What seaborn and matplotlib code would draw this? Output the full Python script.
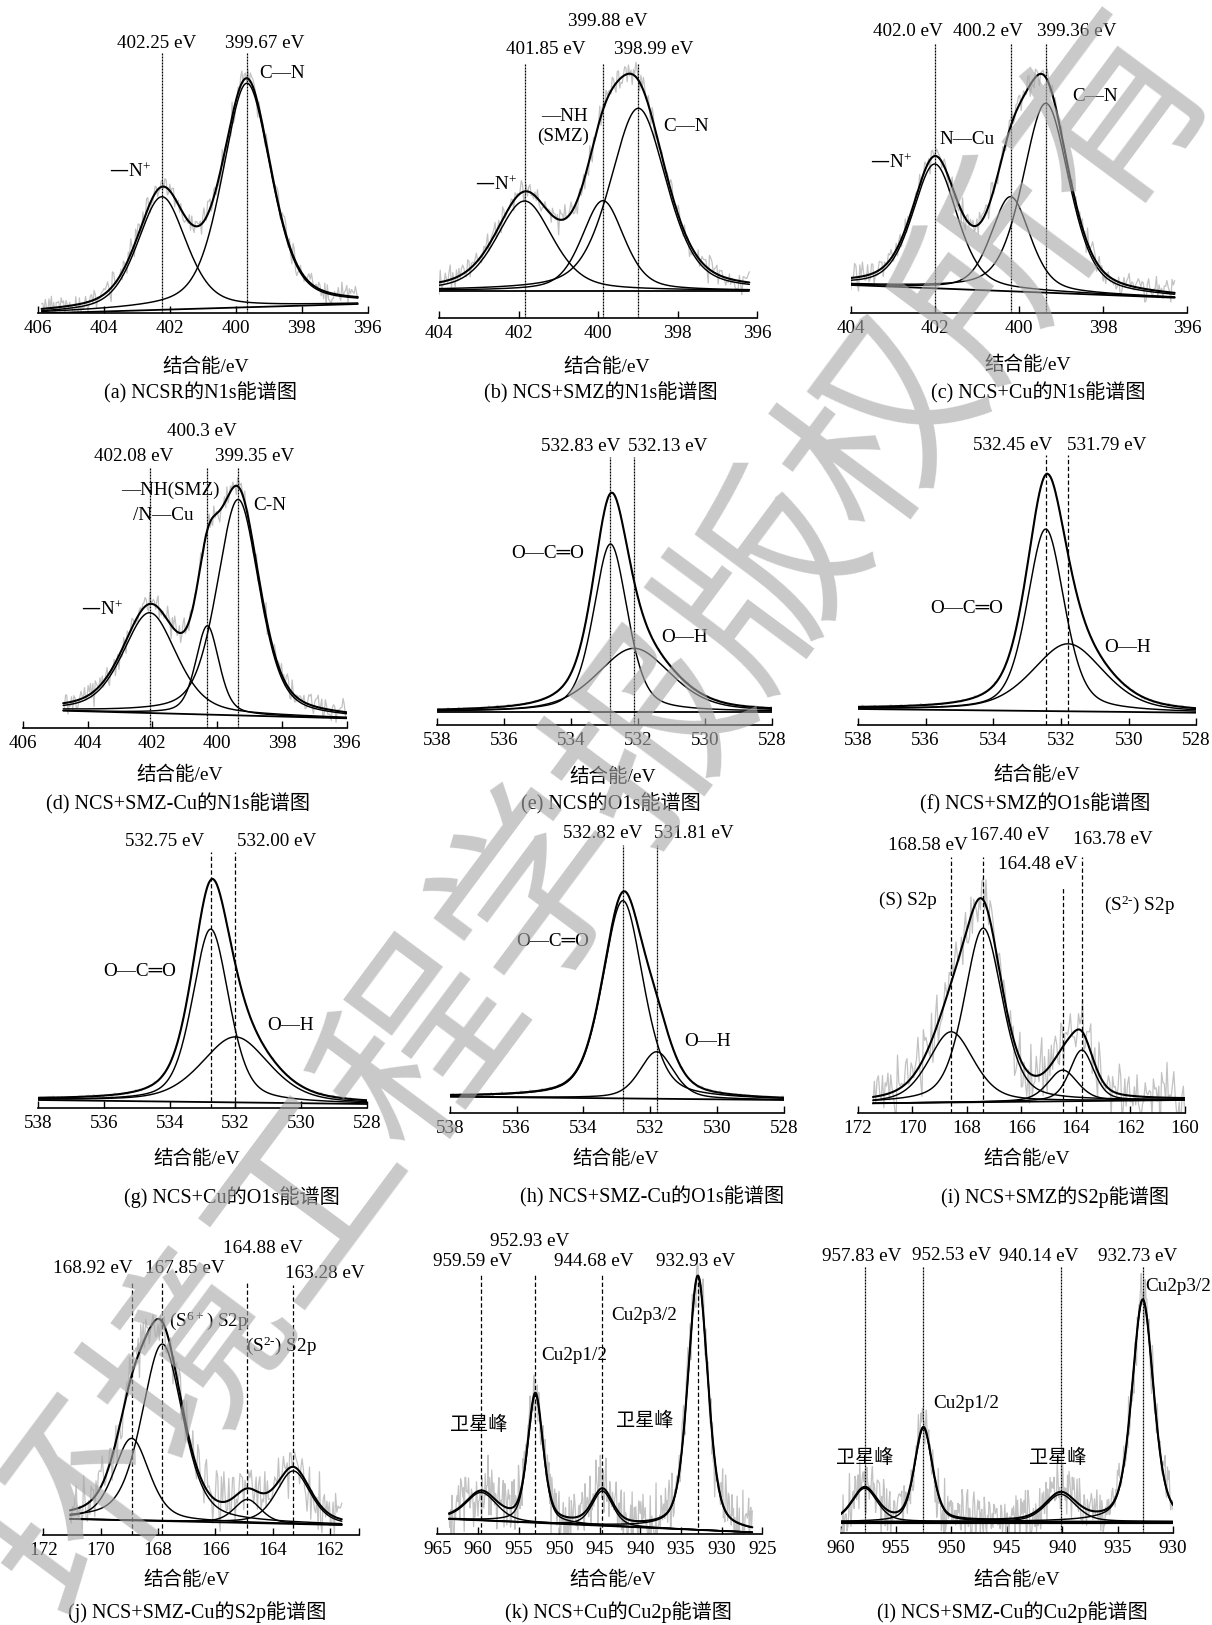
import numpy as np
import matplotlib
matplotlib.use("Agg")
import matplotlib.pyplot as plt
import seaborn as sns

W, H = 1212, 1625

# ---------------------------------------------------------------- data
# hand-typed scatter of the raw spectra (relative units, -1..1)
NOISE = [0.3, -0.5, 0.8, -0.2, 0.1, -0.9, 0.6, 0.4, -0.3, 0.7, -0.6, 0.2, 0.9, -0.4, -0.1, 0.5, -0.8, 0.3, 0.6, -0.7,
         0.0, 0.8, -0.3, -0.6, 0.4, 0.2, -0.9, 0.7, -0.1, 0.5, -0.4, 0.9, -0.7, 0.1, 0.3, -0.2, 0.6, -0.5, 0.8, -0.8,
         0.2, -0.1, 0.7, -0.6, 0.4, -0.3, 0.9, 0.1, -0.7, 0.5, -0.2, 0.3, -0.9, 0.6, 0.0, -0.4, 0.8, -0.5, 0.2, 0.7,
         -0.3, 0.4, -0.8, 0.1, 0.6, -0.6, 0.3, -0.1, 0.9, -0.4, 0.5, -0.7, 0.2, 0.8, -0.2, -0.5, 0.7, -0.9, 0.4, 0.0,
         0.6, -0.3, 0.1, -0.8, 0.9, -0.1, 0.3, -0.6, 0.5, 0.2, -0.4, 0.7, -0.7, 0.4, -0.2, 0.8, -0.5, 0.1, 0.6, -0.9,
         0.3, 0.5, -0.3, 0.7, -0.8, 0.2, -0.1, 0.9, -0.6, 0.4, 0.0, -0.5, 0.8, -0.2, 0.6, -0.7, 0.1, 0.3, -0.4, 0.5]

# (a) NCSR N1s
A_CENTERS = [402.25, 399.67]
A_HEIGHTS = [113.0, 224.0]
A_FWHM = [1.75, 1.75]
A_BACKGROUND = [0.0, 9.3]
A_SCAN = [405.9, 396.3]
A_XLIM = [406, 396]
A_TICKS = [406, 404, 402, 400, 398, 396]
A_PEAK_LABELS = ["402.25 eV", "399.67 eV"]
A_SPECIES = ["—N$^{+}$", "C—N"]
A_NOISE_AMP = 17

# (b) NCS+SMZ N1s
B_CENTERS = [401.85, 399.88, 398.99]
B_HEIGHTS = [89.7, 90.0, 182.4]
B_FWHM = [1.66, 1.25, 1.67]
B_BACKGROUND = [27.6, 27.6]
B_SCAN = [404.0, 396.2]
B_XLIM = [404, 396]
B_TICKS = [404, 402, 400, 398, 396]
B_PEAK_LABELS = ["401.85 eV", "399.88 eV", "398.99 eV"]
B_SPECIES = ["—N$^{+}$", "—NH", "(SMZ)", "C—N"]
B_NOISE_AMP = 17

# (c) NCS+Cu N1s
C_CENTERS = [402.0, 400.2, 399.36]
C_HEIGHTS = [124.3, 94.6, 189.4]
C_FWHM = [1.25, 1.1, 1.3]
C_BACKGROUND = [28.3, 15.6]
C_SCAN = [404.0, 396.3]
C_XLIM = [404, 396]
C_TICKS = [404, 402, 400, 398, 396]
C_PEAK_LABELS = ["402.0 eV", "400.2 eV", "399.36 eV"]
C_SPECIES = ["—N$^{+}$", "N—Cu", "C—N"]
C_NOISE_AMP = 17

# (d) NCS+SMZ-Cu N1s
D_CENTERS = [402.08, 400.3, 399.35]
D_HEIGHTS = [100.3, 88.8, 216.0]
D_FWHM = [1.95, 0.85, 1.55]
D_BACKGROUND = [17.0, 9.4]
D_SCAN = [404.75, 396.0]
D_XLIM = [406, 396]
D_TICKS = [406, 404, 402, 400, 398, 396]
D_PEAK_LABELS = ["402.08 eV", "400.3 eV", "399.35 eV"]
D_SPECIES = ["—N$^{+}$", "—NH(SMZ)", "/N—Cu", "C-N"]
D_NOISE_AMP = 17

# (e) NCS O1s
E_CENTERS = [532.83, 532.13]
E_HEIGHTS = [167.7, 63.4]
E_FWHM = [1.2, 2.6]
E_BACKGROUND = [13.3, 13.3]
E_SCAN = [538.0, 528.0]
E_XLIM = [538, 528]
E_TICKS = [538, 536, 534, 532, 530, 528]
E_PEAK_LABELS = ["532.83 eV", "532.13 eV"]
E_SPECIES = ["O—C═O", "O—H"]
E_NOISE_AMP = 2

# (f) NCS+SMZ O1s
F_CENTERS = [532.45, 531.79]
F_HEIGHTS = [182.0, 67.5]
F_FWHM = [1.3, 2.5]
F_BACKGROUND = [16.0, 12.3]
F_SCAN = [538.0, 528.0]
F_XLIM = [538, 528]
F_TICKS = [538, 536, 534, 532, 530, 528]
F_PEAK_LABELS = ["532.45 eV", "531.79 eV"]
F_SPECIES = ["O—C═O", "O—H"]
F_NOISE_AMP = 2

# (g) NCS+Cu O1s
G_CENTERS = [532.75, 532.00]
G_HEIGHTS = [173.0, 65.5]
G_FWHM = [1.32, 2.44]
G_BACKGROUND = [7.7, 3.7]
G_SCAN = [538.0, 528.0]
G_XLIM = [538, 528]
G_TICKS = [538, 536, 534, 532, 530, 528]
G_PEAK_LABELS = ["532.75 eV", "532.00 eV"]
G_SPECIES = ["O—C═O", "O—H"]
G_NOISE_AMP = 2

# (h) NCS+SMZ-Cu O1s
H_CENTERS = [532.82, 531.81]
H_HEIGHTS = [197.7, 47.0]
H_FWHM = [1.44, 1.2]
H_BACKGROUND = [16.0, 12.7]
H_SCAN = [538.0, 528.0]
H_XLIM = [538, 528]
H_TICKS = [538, 536, 534, 532, 530, 528]
H_PEAK_LABELS = ["532.82 eV", "531.81 eV"]
H_SPECIES = ["O—C═O", "O—H"]
H_NOISE_AMP = 2

# (i) NCS+SMZ S2p
I_CENTERS = [168.58, 167.40, 164.48, 163.78]
I_HEIGHTS = [70.7, 174.0, 31.2, 51.0]
I_FWHM = [1.96, 1.65, 1.3, 1.05]
I_BACKGROUND = [9.4, 12.7]
I_SCAN = [171.45, 160.0]
I_XLIM = [172, 160]
I_TICKS = [172, 170, 168, 166, 164, 162, 160]
I_PEAK_LABELS = ["168.58 eV", "167.40 eV", "164.48 eV", "163.78 eV"]
I_SPECIES = ["(S) S2p", "(S$^{2‐}$) S2p"]
I_NOISE_AMP = 42

# (j) NCS+SMZ-Cu S2p
J_CENTERS = [168.92, 167.85, 164.88, 163.28]
J_HEIGHTS = [82.0, 177.0, 23.5, 53.0]
J_FWHM = [1.45, 1.69, 1.1, 1.4]
J_BACKGROUND = [16.0, 10.0]
J_SCAN = [171.07, 161.59]
J_XLIM = [172, 161]
J_TICKS = [172, 170, 168, 166, 164, 162]
J_PEAK_LABELS = ["168.92 eV", "167.85 eV", "164.88 eV", "163.28 eV"]
J_SPECIES = ["(S$^{6+}$) S2p", "(S$^{2‐}$) S2p"]
J_NOISE_AMP = 36

# (k) NCS+Cu Cu2p
K_CENTERS = [959.59, 952.93, 944.68, 932.93]
K_HEIGHTS = [28.0, 127.8, 34.7, 253.9]
K_FWHM = [4.5, 2.25, 3.0, 2.9]
K_BACKGROUND = [15.3, 2.0]
K_SCAN = [963.56, 926.23]
K_XLIM = [965, 925]
K_TICKS = [965, 960, 955, 950, 945, 940, 935, 930, 925]
K_PEAK_LABELS = ["959.59 eV", "952.93 eV", "944.68 eV", "932.93 eV"]
K_SPECIES = ["卫星峰", "Cu2p1/2", "卫星峰", "Cu2p3/2"]
K_NOISE_AMP = 42

# (l) NCS+SMZ-Cu Cu2p
L_CENTERS = [957.83, 952.53, 940.14, 932.73]
L_HEIGHTS = [33.4, 93.4, 27.4, 221.7]
L_FWHM = [2.7, 1.9, 3.3, 2.3]
L_BACKGROUND = [11.6, 11.6]
L_SCAN = [960.0, 930.0]
L_XLIM = [960, 930]
L_TICKS = [960, 955, 950, 945, 940, 935, 930]
L_PEAK_LABELS = ["957.83 eV", "952.53 eV", "940.14 eV", "932.73 eV"]
L_SPECIES = ["卫星峰", "Cu2p1/2", "卫星峰", "Cu2p3/2"]
L_NOISE_AMP = 36

CAPTIONS = ["(a) NCSR的N1s能谱图", "(b) NCS+SMZ的N1s能谱图", "(c) NCS+Cu的N1s能谱图",
            "(d) NCS+SMZ-Cu的N1s能谱图", "(e) NCS的O1s能谱图", "(f) NCS+SMZ的O1s能谱图",
            "(g) NCS+Cu的O1s能谱图", "(h) NCS+SMZ-Cu的O1s能谱图", "(i) NCS+SMZ的S2p能谱图",
            "(j) NCS+SMZ-Cu的S2p能谱图", "(k) NCS+Cu的Cu2p能谱图", "(l) NCS+SMZ-Cu的Cu2p能谱图"]
XLABEL = "结合能/eV"
WATERMARK = "环境工程学报版权所有"

PANEL_DATA = [
    (A_CENTERS, A_HEIGHTS, A_FWHM, A_BACKGROUND, A_SCAN, A_XLIM, A_TICKS, A_PEAK_LABELS, A_SPECIES, A_NOISE_AMP),
    (B_CENTERS, B_HEIGHTS, B_FWHM, B_BACKGROUND, B_SCAN, B_XLIM, B_TICKS, B_PEAK_LABELS, B_SPECIES, B_NOISE_AMP),
    (C_CENTERS, C_HEIGHTS, C_FWHM, C_BACKGROUND, C_SCAN, C_XLIM, C_TICKS, C_PEAK_LABELS, C_SPECIES, C_NOISE_AMP),
    (D_CENTERS, D_HEIGHTS, D_FWHM, D_BACKGROUND, D_SCAN, D_XLIM, D_TICKS, D_PEAK_LABELS, D_SPECIES, D_NOISE_AMP),
    (E_CENTERS, E_HEIGHTS, E_FWHM, E_BACKGROUND, E_SCAN, E_XLIM, E_TICKS, E_PEAK_LABELS, E_SPECIES, E_NOISE_AMP),
    (F_CENTERS, F_HEIGHTS, F_FWHM, F_BACKGROUND, F_SCAN, F_XLIM, F_TICKS, F_PEAK_LABELS, F_SPECIES, F_NOISE_AMP),
    (G_CENTERS, G_HEIGHTS, G_FWHM, G_BACKGROUND, G_SCAN, G_XLIM, G_TICKS, G_PEAK_LABELS, G_SPECIES, G_NOISE_AMP),
    (H_CENTERS, H_HEIGHTS, H_FWHM, H_BACKGROUND, H_SCAN, H_XLIM, H_TICKS, H_PEAK_LABELS, H_SPECIES, H_NOISE_AMP),
    (I_CENTERS, I_HEIGHTS, I_FWHM, I_BACKGROUND, I_SCAN, I_XLIM, I_TICKS, I_PEAK_LABELS, I_SPECIES, I_NOISE_AMP),
    (J_CENTERS, J_HEIGHTS, J_FWHM, J_BACKGROUND, J_SCAN, J_XLIM, J_TICKS, J_PEAK_LABELS, J_SPECIES, J_NOISE_AMP),
    (K_CENTERS, K_HEIGHTS, K_FWHM, K_BACKGROUND, K_SCAN, K_XLIM, K_TICKS, K_PEAK_LABELS, K_SPECIES, K_NOISE_AMP),
    (L_CENTERS, L_HEIGHTS, L_FWHM, L_BACKGROUND, L_SCAN, L_XLIM, L_TICKS, L_PEAK_LABELS, L_SPECIES, L_NOISE_AMP),
]

# ---------------------------------------------------------------- layout (pixels of the 1212x1625 canvas)
FINE = (0, (1.6, 0.8))
DASH = (0, (3.5, 2.0))
LAYOUT = [
    dict(px=(38.3, 367.7), axis_y=313.3, vtop=[260, 260], peak_xy=[(157, 43), (265, 43)],
         sp_xy=[(130, 172), (282, 73)], xl=(205.7, 366.7), cap=(200, 393), vls=FINE, n=260),
    dict(px=(439, 757.3), axis_y=318.3, vtop=[255] * 3, peak_xy=[(545.7, 50), (607.3, 21.7), (654, 50)],
         sp_xy=[(495.7, 185), (564, 116.7), (563.3, 136.7), (685.7, 126.7)], xl=(606.3, 366.7), cap=(600.7, 393),
         vls=FINE, n=250),
    dict(px=(850.7, 1187.3), axis_y=313.3, vtop=[270] * 3, peak_xy=[(908, 31.7), (988, 31.7), (1076.3, 31.7)],
         sp_xy=[(891.3, 162.3), (967.3, 139.3), (1094.7, 96.7)], xl=(1028, 365), cap=(1038.7, 393), vls=FINE, n=250),
    dict(px=(22.7, 346.7), axis_y=727.7, vtop=[259.4] * 3, peak_xy=[(133.3, 456.7), (201.7, 431.7), (255, 456.7)],
         sp_xy=[(101.7, 610), (170, 490), (163.3, 515), (269.3, 505.7)], xl=(180, 775), cap=(178.3, 803.3),
         vls=FINE, n=240),
    dict(px=(437.3, 772.3), axis_y=725, vtop=[268.3] * 2, peak_xy=[(580.7, 446.7), (667.3, 446.7)],
         sp_xy=[(548, 554), (685, 637.7)], xl=(612.3, 776.7), cap=(610.7, 803.3), vls=FINE, n=250),
    dict(px=(858, 1196.3), axis_y=725, vtop=[270] * 2, peak_xy=[(1013, 445), (1106.3, 445)],
         sp_xy=[(966.3, 608.3), (1128, 647.3)], xl=(1037, 775), cap=(1034.7, 803.3), vls=DASH, n=250),
    dict(px=(38.3, 366.7), axis_y=1107.7, vtop=[256] * 2, peak_xy=[(165, 841.7), (276.7, 841.7)],
         sp_xy=[(139.3, 971), (290.7, 1025)], xl=(196.7, 1158.3), cap=(232.3, 1196.7), vls=DASH, n=250),
    dict(px=(449.7, 784), axis_y=1112.7, vtop=[267.7] * 2, peak_xy=[(603, 833.3), (694, 833.3)],
         sp_xy=[(552.3, 941.7), (708, 1041.7)], xl=(615.7, 1158.3), cap=(652.3, 1196.7), vls=FINE, n=250),
    dict(px=(858, 1184.7), axis_y=1112.7, vtop=[256, 256, 224.4, 256],
         peak_xy=[(928, 845), (1009.7, 835), (1038, 865), (1113, 840)],
         sp_xy=[(908, 900), (1139.7, 904.3)], xl=(1027, 1158.3), cap=(1054.7, 1196.7), vls=DASH, n=230),
    dict(px=(43.3, 358.7), axis_y=1535, vtop=[251.7, 251.7, 251.7, 250],
         peak_xy=[(93.3, 1268.3), (185, 1268.3), (263.3, 1248.3), (325, 1273.3)],
         sp_xy=[(208.3, 1321), (281.7, 1345.7)], xl=(186.7, 1580), cap=(197.3, 1611.7), vls=DASH, n=220,
         minor=[161]),
    dict(px=(437.3, 762.3), axis_y=1534.3, vtop=[260] * 4,
         peak_xy=[(472.3, 1261.7), (530, 1241), (593.3, 1261.7), (695.7, 1261.7)],
         sp_xy=[(479, 1425), (574, 1356), (644.7, 1421), (644, 1315)], xl=(613, 1580), cap=(618, 1611.7),
         vls=DASH, n=420),
    dict(px=(840.7, 1173), axis_y=1533.3, vtop=[266.6] * 4,
         peak_xy=[(861.3, 1256.7), (952, 1255), (1038.7, 1256.7), (1138, 1256.7)],
         sp_xy=[(864.7, 1458.3), (966.3, 1403.3), (1058, 1458.3), (1178, 1286.7)], xl=(1016.3, 1580),
         cap=(1012, 1611.7), vls=FINE, n=420, bg_lw=2.3),
]

# ---------------------------------------------------------------- style
sns.set_theme(style="white")
plt.rcParams["font.family"] = ["Liberation Serif", "Noto Sans CJK SC", "DejaVu Sans"]
plt.rcParams["mathtext.default"] = "regular"

TXT = 13.8
GL_MIX = 0.42


def pvoigt(x, c, h, w, eta=GL_MIX):
    d2 = ((x - c) / (w / 2.0)) ** 2
    return h * (eta / (1.0 + d2) + (1.0 - eta) * np.exp(-np.log(2.0) * d2))


fig = plt.figure(figsize=(W / 100, H / 100), dpi=100)
fig.patch.set_facecolor("white")


def ftext(x, y, s, size=TXT, **kw):
    fig.text(x / W, 1 - y / H, s, ha="center", va="center", fontsize=size, color="black", **kw)


nz = np.array(NOISE)
AX_H = 300.0

for idx, (data, lay) in enumerate(zip(PANEL_DATA, LAYOUT)):
    centers, heights, fwhm, bgv, scan, xlim, ticks, plabels, species, namp = data
    x0, x1 = lay["px"]
    ay = lay["axis_y"]
    ax = fig.add_axes([x0 / W, 1 - ay / H, (x1 - x0) / W, AX_H / H])
    ax.patch.set_alpha(0)

    x = np.linspace(scan[0], scan[1], 700)
    bg = bgv[0] + (bgv[1] - bgv[0]) * (x - scan[0]) / (scan[1] - scan[0])
    comps = [pvoigt(x, c, h, w) for c, h, w in zip(centers, heights, fwhm)]
    env = bg + np.sum(comps, axis=0)

    # raw spectrum: envelope plus the hand-typed scatter
    n = lay["n"]
    xr = np.linspace(scan[0], scan[1], n)
    k = np.arange(n)
    scat = 0.62 * nz[(k * 7 + 5 * idx) % 120] + 0.38 * nz[(k * 11 + 13 * idx) % 113]
    bgr = bgv[0] + (bgv[1] - bgv[0]) * (xr - scan[0]) / (scan[1] - scan[0])
    envr = bgr + np.sum([pvoigt(xr, c, h, w) for c, h, w in zip(centers, heights, fwhm)], axis=0)
    raw = envr + namp * scat
    sns.lineplot(x=xr, y=raw, ax=ax, color="#c2c2c2", linewidth=0.9, sort=False, estimator=None, zorder=1)

    for comp in comps:
        sns.lineplot(x=x, y=bg + comp, ax=ax, color="black", linewidth=1.05, sort=False, estimator=None, zorder=3)
    sns.lineplot(x=x, y=env, ax=ax, color="black", linewidth=1.5, sort=False, estimator=None, zorder=4)
    sns.lineplot(x=x, y=bg, ax=ax, color="black", linewidth=lay.get("bg_lw", 1.3), sort=False,
                 estimator=None, zorder=4)

    for c, top in zip(centers, lay["vtop"]):
        ax.vlines(c, 0, top, colors="black", linestyles=lay["vls"], linewidth=0.9, zorder=5)

    ax.set_xlim(xlim[0], xlim[1])
    ax.set_ylim(0, AX_H)
    ax.set_xticks(ticks)
    ax.set_xticklabels([str(t) for t in ticks])
    if "minor" in lay:
        ax.set_xticks(lay["minor"], minor=True)
    ax.set_yticks([])
    ax.set_xlabel("")
    ax.set_ylabel("")
    for s in ["left", "right", "top"]:
        ax.spines[s].set_visible(False)
    ax.spines["bottom"].set_color("black")
    ax.spines["bottom"].set_linewidth(1.2)
    ax.tick_params(axis="x", which="both", direction="in", length=5, width=1.0, color="black",
                   labelsize=TXT, labelcolor="black", pad=5, bottom=True)

    for lbl, (tx, ty) in zip(plabels, lay["peak_xy"]):
        ftext(tx, ty, lbl)
    for lbl, (tx, ty) in zip(species, lay["sp_xy"]):
        ftext(tx, ty, lbl)
    ftext(lay["xl"][0], lay["xl"][1], XLABEL, size=14)
    ftext(lay["cap"][0], lay["cap"][1], CAPTIONS[idx], size=14.5)

# watermark (light grey, semi-transparent so the curves stay readable)
fig.text(598 / W, 1 - 815 / H, WATERMARK, ha="center", va="center", rotation=53.4,
         rotation_mode="anchor", fontsize=139, fontweight="light", color="#a8a8a8", alpha=0.62,
         family=["Noto Sans CJK SC"], zorder=20)

fig.savefig("out.png", dpi=100, facecolor="white")
